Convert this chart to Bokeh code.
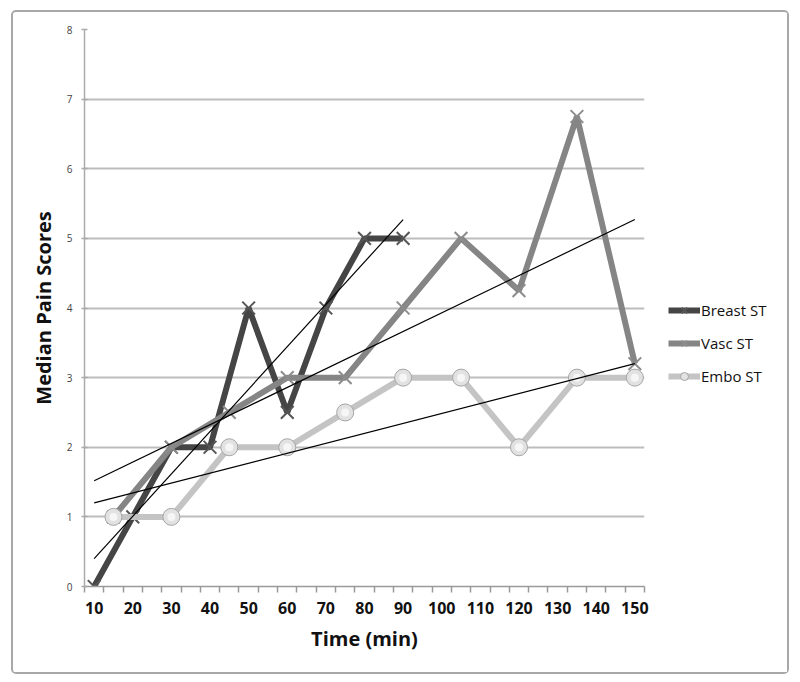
from bokeh.plotting import figure
from bokeh.models import FixedTicker, Legend, LegendItem, Range1d, ColumnDataSource
from bokeh.layouts import row
from bokeh.embed import file_html
from bokeh.resources import INLINE

# ---- data ----
breast_x = [10, 20, 30, 40, 50, 60, 70, 80, 90]
breast_y = [0, 1, 2, 2, 4, 2.5, 4, 5, 5]
vasc_x = [15, 30, 45, 60, 75, 90, 105, 120, 135, 150]
vasc_y = [1, 2, 2.5, 3, 3, 4, 5, 4.25, 6.75, 3.2]
embo_x = [15, 30, 45, 60, 75, 90, 105, 120, 135, 150]
embo_y = [1, 1, 2, 2, 2.5, 3, 3, 2, 3, 3]

trend_breast_x = [10, 90]
trend_breast_y = [0.4, 5.27]
trend_vasc_x = [10, 150]
trend_vasc_y = [1.52, 5.27]
trend_embo_x = [10, 150]
trend_embo_y = [1.2, 3.2]

series_names = ["Breast ST", "Vasc ST", "Embo ST"]
x_tick_values = [10, 20, 30, 40, 50, 60, 70, 80, 90, 100, 110, 120, 130, 140, 150]
y_tick_values = [0, 1, 2, 3, 4, 5, 6, 7, 8]
category_edges = [7.5 + 5 * i for i in range(30)]

FONT = "Open Sans"
BREAST = "#454545"
VASC = "#858585"
EMBO = "#c4c4c4"
BREAST_MK = "#555555"
VASC_MK = "#8c8c8c"

p = figure(width=651, height=660, output_backend="svg", toolbar_location=None,
           x_range=Range1d(7.5, 152.5), y_range=Range1d(0, 8),
           min_border_left=71, min_border_right=20, min_border_top=17, min_border_bottom=86)
p.outline_line_color = None
p.background_fill_color = "white"
p.border_fill_color = "white"

# axes
p.xaxis.ticker = FixedTicker(ticks=x_tick_values, minor_ticks=category_edges)
p.yaxis.ticker = FixedTicker(ticks=y_tick_values, minor_ticks=[])
p.xgrid.grid_line_color = None
p.ygrid.grid_line_color = "#bdbdbd"
p.ygrid.grid_line_width = 2

p.xaxis.axis_line_color = "#9a9a9a"
p.xaxis.axis_line_width = 1.5
p.xaxis.major_tick_line_color = None
p.xaxis.major_tick_out = 5
p.xaxis.major_tick_in = 0
p.xaxis.minor_tick_line_color = "#9a9a9a"
p.xaxis.minor_tick_line_width = 1.5
p.xaxis.minor_tick_out = 6
p.xaxis.minor_tick_in = 0
p.xaxis.major_label_text_font = FONT
p.xaxis.major_label_text_font_style = "bold"
p.xaxis.major_label_text_font_size = "16px"
p.xaxis.major_label_text_color = "#111111"
p.xaxis.major_label_standoff = 9
p.xaxis.axis_label = "Time (min)"
p.xaxis.axis_label_text_font = FONT
p.xaxis.axis_label_text_font_style = "bold"
p.xaxis.axis_label_text_font_size = "20px"
p.xaxis.axis_label_text_color = "#111111"
p.xaxis.axis_label_standoff = 8

p.yaxis.axis_line_color = "#aaaaaa"
p.yaxis.axis_line_width = 1.5
p.yaxis.major_tick_line_color = "#aaaaaa"
p.yaxis.major_tick_line_width = 1.5
p.yaxis.major_tick_out = 3
p.yaxis.major_tick_in = 3
p.yaxis.major_label_text_font = FONT
p.yaxis.major_label_text_font_size = "10px"
p.yaxis.major_label_text_color = "#444444"
p.yaxis.major_label_standoff = 9
p.yaxis.axis_label = "Median Pain Scores"
p.yaxis.axis_label_text_font = FONT
p.yaxis.axis_label_text_font_style = "bold"
p.yaxis.axis_label_text_font_size = "20px"
p.yaxis.axis_label_text_color = "#111111"
p.yaxis.axis_label_standoff = 7

# series
p.line(breast_x, breast_y, line_color=BREAST, line_width=6)
p.scatter(breast_x, breast_y, marker="x", size=18, line_color=BREAST_MK, line_width=2)
p.line(vasc_x, vasc_y, line_color=VASC, line_width=6)
p.scatter(vasc_x, vasc_y, marker="x", size=18, line_color=VASC_MK, line_width=2)
p.line(embo_x, embo_y, line_color=EMBO, line_width=6)
p.scatter(embo_x, embo_y, marker="circle", size=17, fill_color="#e2e2e2",
          line_color="#a5a5a5", line_width=1)
p.scatter(embo_x, embo_y, marker="circle", size=8, fill_color="#f8f8f8",
          line_color=None, fill_alpha=0.9)

# trend lines
p.line(trend_breast_x, trend_breast_y, line_color="black", line_width=1.2)
p.line(trend_vasc_x, trend_vasc_y, line_color="black", line_width=1.2)
p.line(trend_embo_x, trend_embo_y, line_color="black", line_width=1.2)

# legend panel (separate, borderless figure beside the chart); its proxy
# renderers sit outside the visible range so only the legend swatches show
pl = figure(width=123, height=660, output_backend="svg", toolbar_location=None,
            x_range=Range1d(0, 1), y_range=Range1d(0, 1),
            min_border=0, min_border_left=0, min_border_right=0,
            min_border_top=0, min_border_bottom=0)
pl.axis.visible = False
pl.grid.visible = False
pl.outline_line_color = None
pl.border_fill_color = "white"
proxy = ColumnDataSource(data=dict(x=[-5, -4], y=[-5, -5]))
lb = pl.line("x", "y", source=proxy, line_color=BREAST, line_width=6)
mb = pl.scatter("x", "y", source=proxy, marker="x", size=13, line_color=BREAST_MK, line_width=2)
lv = pl.line("x", "y", source=proxy, line_color=VASC, line_width=6)
mv = pl.scatter("x", "y", source=proxy, marker="x", size=13, line_color=VASC_MK, line_width=2)
le = pl.line("x", "y", source=proxy, line_color=EMBO, line_width=6)
me = pl.scatter("x", "y", source=proxy, marker="circle", size=13, fill_color="#e2e2e2",
                line_color="#a5a5a5", line_width=1)

legend = Legend(items=[
    LegendItem(label=series_names[0], renderers=[lb, mb]),
    LegendItem(label=series_names[1], renderers=[lv, mv]),
    LegendItem(label=series_names[2], renderers=[le, me]),
], location=(4, 200))
legend.border_line_color = None
legend.background_fill_alpha = 0
legend.padding = 0
legend.margin = 0
legend.spacing = 13
legend.glyph_width = 32
legend.glyph_height = 20
legend.label_height = 20
legend.label_standoff = 1
legend.label_text_font = FONT
legend.label_text_font_size = "15px"
legend.label_text_color = "#111111"
pl.add_layout(legend, "center")

layout = row(p, pl, spacing=0,
             styles={"margin-left": "11px", "margin-top": "10px",
                     "border": "2px solid #a8a8a8", "border-radius": "5px"})

open("out.html", "w").write(file_html(layout, INLINE))
